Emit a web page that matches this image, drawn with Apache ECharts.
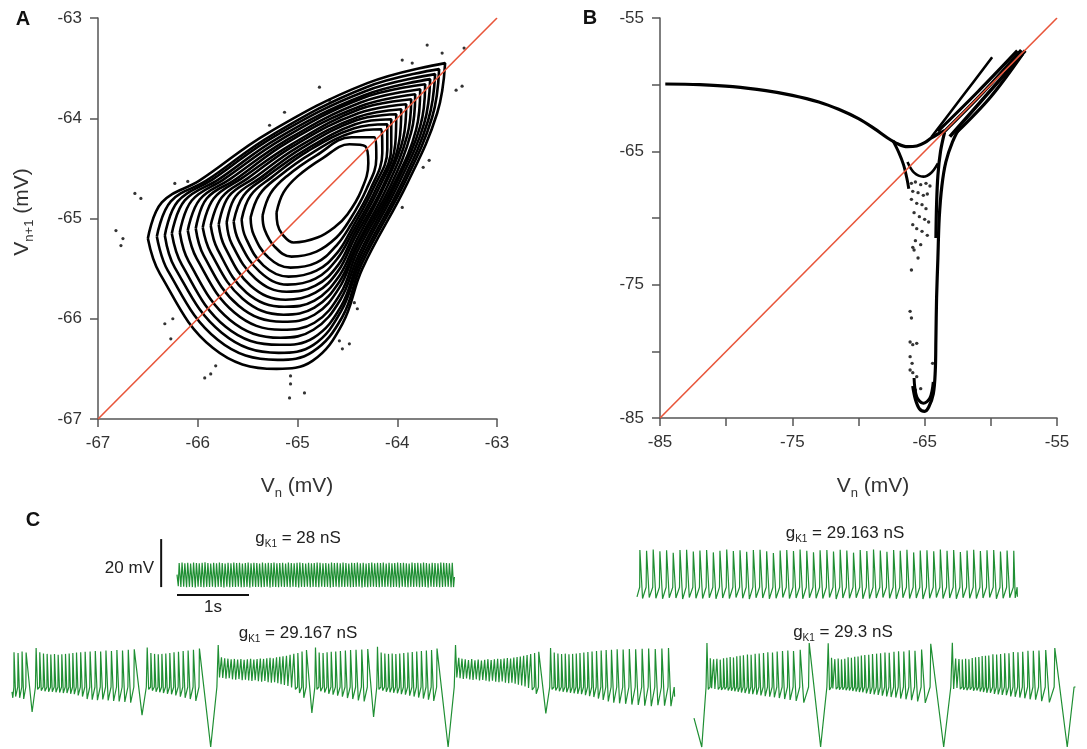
<!DOCTYPE html>
<html><head><meta charset="utf-8">
<script src="https://cdn.jsdelivr.net/npm/echarts@6.0.0/dist/echarts.min.js"></script>
<style>html,body{margin:0;padding:0;background:#fff}#c{width:1087px;height:749px}</style>
</head><body><div id="c"></div>
<script>
// ================= DATA =================
// ---- Panel A : return map, nested loops (Vn, Vn+1) in mV ----
const ticksA = [-67, -66, -65, -64, -63];
const loopsA = [
 [[-65.21,-64.94],[-65.14,-64.74],[-65.00,-64.58],[-64.75,-64.40],[-64.48,-64.26],[-64.32,-64.28],[-64.29,-64.45],[-64.36,-64.72],[-64.50,-64.96],[-64.62,-65.08],[-64.80,-65.19],[-65.04,-65.24],[-65.15,-65.16],[-65.20,-65.06]],
 [[-65.35,-64.97],[-65.27,-64.75],[-65.11,-64.58],[-64.81,-64.37],[-64.46,-64.19],[-64.23,-64.19],[-64.21,-64.40],[-64.31,-64.71],[-64.48,-65.02],[-64.61,-65.19],[-64.81,-65.33],[-65.06,-65.38],[-65.23,-65.28],[-65.33,-65.11]],
 [[-65.47,-64.99],[-65.38,-64.76],[-65.20,-64.59],[-64.86,-64.35],[-64.44,-64.14],[-64.16,-64.11],[-64.15,-64.35],[-64.27,-64.71],[-64.47,-65.07],[-64.61,-65.27],[-64.81,-65.44],[-65.07,-65.49],[-65.29,-65.39],[-65.44,-65.16]],
 [[-65.56,-65.01],[-65.47,-64.77],[-65.26,-64.59],[-64.90,-64.33],[-64.43,-64.10],[-64.10,-64.06],[-64.10,-64.32],[-64.24,-64.70],[-64.46,-65.11],[-64.60,-65.34],[-64.81,-65.52],[-65.09,-65.58],[-65.34,-65.47],[-65.52,-65.19]],
 [[-65.64,-65.03],[-65.54,-64.77],[-65.32,-64.59],[-64.93,-64.32],[-64.42,-64.06],[-64.06,-64.01],[-64.06,-64.29],[-64.21,-64.70],[-64.45,-65.14],[-64.60,-65.40],[-64.82,-65.60],[-65.10,-65.66],[-65.38,-65.53],[-65.59,-65.22]],
 [[-65.71,-65.04],[-65.62,-64.78],[-65.38,-64.60],[-64.96,-64.30],[-64.41,-64.02],[-64.01,-63.96],[-64.02,-64.26],[-64.18,-64.69],[-64.44,-65.17],[-64.59,-65.46],[-64.82,-65.67],[-65.11,-65.73],[-65.42,-65.60],[-65.66,-65.25]],
 [[-65.79,-65.06],[-65.69,-64.78],[-65.44,-64.60],[-65.00,-64.29],[-64.40,-63.99],[-63.96,-63.91],[-63.98,-64.23],[-64.15,-64.69],[-64.43,-65.20],[-64.59,-65.52],[-64.82,-65.74],[-65.12,-65.81],[-65.47,-65.67],[-65.73,-65.28]],
 [[-65.87,-65.07],[-65.76,-64.79],[-65.50,-64.60],[-65.03,-64.27],[-64.39,-63.95],[-63.91,-63.86],[-63.94,-64.20],[-64.13,-64.68],[-64.42,-65.24],[-64.58,-65.57],[-64.83,-65.82],[-65.13,-65.88],[-65.51,-65.74],[-65.80,-65.31]],
 [[-65.95,-65.09],[-65.84,-64.80],[-65.56,-64.60],[-65.06,-64.26],[-64.38,-63.91],[-63.86,-63.81],[-63.90,-64.17],[-64.10,-64.68],[-64.41,-65.27],[-64.58,-65.63],[-64.83,-65.89],[-65.14,-65.96],[-65.55,-65.80],[-65.87,-65.34]],
 [[-66.02,-65.10],[-65.91,-64.80],[-65.62,-64.61],[-65.10,-64.24],[-64.37,-63.88],[-63.82,-63.76],[-63.86,-64.14],[-64.07,-64.68],[-64.41,-65.30],[-64.58,-65.69],[-64.83,-65.96],[-65.15,-66.03],[-65.59,-65.87],[-65.94,-65.37]],
 [[-66.10,-65.12],[-65.98,-64.81],[-65.68,-64.61],[-65.13,-64.23],[-64.36,-63.84],[-63.77,-63.71],[-63.81,-64.11],[-64.04,-64.67],[-64.40,-65.33],[-64.57,-65.75],[-64.83,-66.04],[-65.16,-66.11],[-65.63,-65.94],[-66.01,-65.40]],
 [[-66.18,-65.14],[-66.06,-64.82],[-65.74,-64.61],[-65.16,-64.21],[-64.35,-63.80],[-63.72,-63.66],[-63.77,-64.08],[-64.02,-64.67],[-64.39,-65.37],[-64.57,-65.81],[-64.84,-66.11],[-65.17,-66.19],[-65.68,-66.01],[-66.09,-65.43]],
 [[-66.26,-65.15],[-66.13,-64.82],[-65.79,-64.61],[-65.20,-64.20],[-64.33,-63.77],[-63.67,-63.61],[-63.73,-64.05],[-63.99,-64.66],[-64.38,-65.40],[-64.56,-65.87],[-64.84,-66.19],[-65.18,-66.26],[-65.72,-66.08],[-66.16,-65.46]],
 [[-66.33,-65.17],[-66.20,-64.83],[-65.85,-64.61],[-65.23,-64.18],[-64.32,-63.73],[-63.62,-63.56],[-63.69,-64.02],[-63.96,-64.66],[-64.37,-65.43],[-64.56,-65.92],[-64.84,-66.26],[-65.19,-66.34],[-65.76,-66.14],[-66.23,-65.49]],
 [[-66.41,-65.18],[-66.27,-64.83],[-65.91,-64.62],[-65.26,-64.17],[-64.31,-63.69],[-63.58,-63.51],[-63.65,-63.99],[-63.93,-64.65],[-64.36,-65.46],[-64.55,-65.98],[-64.85,-66.33],[-65.20,-66.41],[-65.80,-66.21],[-66.30,-65.52]],
 [[-66.50,-65.20],[-66.36,-64.84],[-65.98,-64.62],[-65.30,-64.15],[-64.30,-63.65],[-63.52,-63.45],[-63.60,-63.95],[-63.90,-64.65],[-64.35,-65.50],[-64.55,-66.05],[-64.85,-66.42],[-65.21,-66.50],[-65.85,-66.29],[-66.38,-65.55]]
];
const strayA = [[-66.82,-65.12],[-66.75,-65.2],[-66.77,-65.27],[-66.63,-64.75],[-66.57,-64.8],[-66.23,-64.65],[-66.1,-64.63],
 [-65.28,-64.07],[-65.13,-63.94],[-64.78,-63.69],[-64.68,-63.82],[-63.95,-63.42],[-63.85,-63.45],[-63.7,-63.27],[-63.55,-63.35],
 [-63.33,-63.3],[-63.41,-63.72],[-63.35,-63.68],[-63.68,-64.42],[-63.74,-64.49],[-63.95,-64.89],[-66.33,-66.05],[-66.27,-66.2],
 [-66.25,-66.0],[-65.93,-66.59],[-65.87,-66.55],[-65.82,-66.47],[-65.08,-66.79],[-65.07,-66.65],[-64.93,-66.74],[-65.07,-66.57],
 [-64.58,-66.22],[-64.48,-66.25],[-64.55,-66.3],[-64.43,-65.84],[-64.4,-65.9]];
const identityA = [[-67, -67], [-63, -63]];

// ---- Panel B ----
const ticksB = [-85, -80, -75, -70, -65, -60, -55];
const identityB = [[-85, -85], [-55, -55]];
const bBranch = [[-84.6,-59.95],[-82,-60.0],[-79.5,-60.15],[-77,-60.45],[-75,-60.8],[-73,-61.3],[-71.5,-61.85],[-70,-62.55],[-68.8,-63.3],[-67.8,-64.0],[-67.0,-64.45],[-66.3,-64.65],[-65.6,-64.6],[-65.0,-64.35],[-64.5,-64.0],[-64.0,-63.7],[-63.5,-63.45]];
const bFork = [[-64.5,-63.95],[-62.2,-60.95],[-59.9,-57.95]];
const bBundle1 = [[-64.0,-63.5],[-61.0,-60.55],[-58.0,-57.45]];
const bBundle2 = [[-63.6,-63.6],[-60.6,-60.6],[-57.7,-57.4]];
const bBundle3 = [[-63.1,-63.9],[-60.3,-60.75],[-57.4,-57.45]];
const bBundle4 = [[-62.6,-63.6],[-60.0,-60.9],[-57.6,-57.7]];
const bRightArm = [[-62.3,-63.1],[-62.9,-64.3],[-63.4,-65.8],[-63.7,-67.6],[-63.9,-70],[-64.0,-73],[-64.1,-76],[-64.15,-79],[-64.2,-81.5],[-64.35,-83.2],[-64.7,-84.2],[-65.0,-84.5],[-65.4,-84.3],[-65.7,-83.6],[-65.9,-82.6]];
const bRightArmInner = [[-63.5,-63.6],[-63.8,-65.0],[-64.0,-66.8],[-64.1,-69],[-64.15,-71.5]];
const bBottomInner = [[-65.8,-82.0],[-65.6,-83.4],[-65.1,-83.9],[-64.6,-83.5],[-64.35,-82.3]];
const bLeftArm = [[-67.4,-64.2],[-66.95,-65.1],[-66.6,-66.0],[-66.35,-67.0],[-66.2,-67.8]];
const bInnerU = [[-66.3,-65.8],[-65.8,-66.6],[-65.1,-66.9],[-64.5,-66.6],[-64.0,-65.9]];
const bScatter = [[-66.0,-67.4],[-65.7,-67.3],[-65.3,-67.5],[-64.9,-67.4],[-64.6,-67.6],[-65.9,-68.0],[-65.5,-68.1],[-65.1,-68.3],
 [-64.8,-68.2],[-66.0,-68.6],[-65.6,-68.9],[-65.2,-69.0],[-64.9,-69.3],[-65.8,-69.6],[-65.4,-69.9],[-65.0,-70.1],[-64.7,-70.3],
 [-65.9,-70.5],[-65.6,-70.8],[-65.2,-71.0],[-64.8,-71.3],[-65.7,-71.7],[-65.3,-72.0],[-65.8,-72.4],[-65.5,-73.0],
 [-65.9,-72.2],[-66.0,-73.9],[-66.1,-77.0],[-66.0,-77.5],[-66.1,-79.3],[-65.9,-79.5],[-65.6,-79.4],[-66.1,-80.4],
 [-65.95,-80.9],[-66.1,-81.4],[-65.9,-81.6],[-65.6,-81.9],[-64.4,-80.9],[-65.3,-82.8],[-65.7,-82.9]];

// ---- Panel C : voltage traces (mV), successive maxima / minima and intervals (ms) ----
const traceTitles = ['28', '29.163', '29.167', '29.3'];
const scaleBarMv = 20, scaleBarSec = 1;
// voltage where the fast upstroke of each spike begins (null: no distinct threshold visible)
const spikeThresholds = [null, -60.5, -60, -60];

const tr1Peaks = [-64,
 -59.2,-59.0,-59.3,-59.1,-59.4,-59.0,-59.2,-59.3,-59.1,-58.9,-59.2,-59.4,
 -59.1,-59.3,-59.0,-59.2,-59.4,-59.1,-59.3,-59.0,-59.2,-59.1,-59.4,-59.2,
 -59.0,-59.3,-59.1,-59.2,-59.4,-59.0,-59.3,-59.1,-59.2,-59.0,-59.3,-59.2,
 -59.1,-59.4,-59.0,-59.2,-59.3,-59.1,-59.0,-59.2,-59.4,-59.1,-59.3,-59.2,
 -59.0,-59.1,-59.3,-59.2,-59.4,-59.0,-59.2,-59.1,-59.3,-59.0,-59.2,-59.4,
 -59.1,-59.2,-59.0,-59.3,-59.1,-59.4,-59.2,-59.0,-59.3,-59.1,-59.2,-59.0,
 -59.4,-59.1,-59.3,-59.2,-59.0,-59.2,-59.1,-59.3,-59.4,-59.0,-59.2,-59.1,
 -59.3,-59.0,-59.2,-59.4,-59.1,-59.2,-59.3,-59.0,-59.1,-59.2,-59.3,-59.1,
 -65];
const tr1Troughs = [-68.8,
 -69.2,-69.0,-69.3,-69.1,-69.2,-69.4,-69.0,-69.2,-69.3,-69.1,-69.2,-69.0,
 -69.3,-69.1,-69.2,-69.4,-69.0,-69.3,-69.1,-69.2,-69.0,-69.3,-69.2,-69.1,
 -69.4,-69.0,-69.2,-69.1,-69.3,-69.2,-69.0,-69.4,-69.1,-69.2,-69.3,-69.0,
 -69.2,-69.1,-69.3,-69.0,-69.2,-69.4,-69.1,-69.2,-69.0,-69.3,-69.1,-69.2,
 -69.3,-69.0,-69.2,-69.1,-69.4,-69.2,-69.0,-69.3,-69.1,-69.2,-69.0,-69.3,
 -69.2,-69.1,-69.0,-69.4,-69.2,-69.3,-69.1,-69.0,-69.2,-69.3,-69.1,-69.2,
 -69.0,-69.3,-69.2,-69.1,-69.4,-69.0,-69.2,-69.3,-69.1,-69.2,-69.0,-69.3,
 -69.1,-69.2,-69.4,-69.0,-69.2,-69.1,-69.3,-69.2,-69.0,-69.1,-69.3,-69.2];
const tr1Gaps = [30,
 40,39,40,40,41,40,39,40,40,40,39,41,
 40,40,39,40,41,40,40,39,40,40,41,39,
 40,40,40,39,40,41,40,40,39,40,40,40,
 41,39,40,40,40,39,40,41,40,40,39,40,
 40,41,40,39,40,40,40,41,39,40,40,40,
 39,40,41,40,40,39,40,40,40,41,39,40,
 40,40,39,40,41,40,40,39,40,40,40,41,
 39,40,40,40,39,41,40,40,39,40,40,
 30];

const tr2Peaks = [-64.5,
 -45.0,-45.3,-44.8,-45.5,-45.1,-46.2,-45.0,-44.9,-45.6,-45.2,-45.0,-46.0,
 -45.3,-44.8,-45.4,-45.1,-45.7,-45.0,-44.9,-45.5,-46.3,-45.2,-45.0,-45.4,
 -44.8,-45.3,-45.9,-45.1,-45.0,-45.6,-44.9,-45.2,-46.1,-45.0,-45.4,-44.8,
 -45.2,-45.7,-45.0,-45.3,-44.9,-46.0,-45.2,-45.1,-45.5,-44.8,-45.3,-45.0,
 -45.8,-45.2,-44.9,-45.4,-45.1,-45.0,-45.6,-45.2,-45.3,
 -64.5];
const tr2Troughs = [-65.0,
 -65.2,-64.8,-65.1,-65.3,-64.9,-65.0,-65.4,-64.8,-65.1,-65.2,-64.9,-65.3,
 -65.0,-65.2,-64.8,-65.1,-65.4,-64.9,-65.0,-65.3,-65.1,-64.8,-65.2,-65.0,
 -65.3,-64.9,-65.1,-65.2,-64.8,-65.4,-65.0,-65.1,-64.9,-65.3,-65.2,-65.0,
 -64.8,-65.1,-65.3,-64.9,-65.2,-65.0,-65.4,-65.1,-64.8,-65.2,-65.0,-65.3,
 -64.9,-65.1,-65.2,-65.0,-64.8,-65.3,-65.1,-64.9,-65.0];
const tr2Gaps = [40,
 93,92,93,93,92,94,92,93,92,93,93,92,
 94,92,93,92,93,93,92,93,94,92,93,92,
 93,93,92,94,92,93,92,93,93,92,93,94,
 92,93,92,93,93,92,93,94,92,93,92,93,
 93,92,93,92,93,94,92,93,
 50];

const tr3Peaks = [-62,
 -45.5,-45.8,-45.2,-45.6,
 -43.8,-45.5,-46,-46.2,-46.5,-46.3,-46.6,-46.4,-46.2,-46,-45.8,-45.6,-45.5,-45.3,-45.2,-45,-45.2,-44.8,-45,-44.6,-44.8,-44.5,-44.3,
 -43.5,-45.8,-46.2,-46.4,-46.2,-46,-45.8,-45.5,-45.3,-45,-44.8,-44.5,-44,
 -42.5,-47.6,-48,-48.2,-48.5,-48.3,-48.6,-48.4,-48.7,-48.5,-48.2,-48.6,-48.4,-48.1,-48.3,-48,-47.8,-48,-47.6,-47.4,-47.2,-47,-46.6,-46.2,-45.8,-45.2,-44.6,
 -43.5,-45.6,-45.8,-45.5,-45.3,-45.2,-45,-44.8,-44.6,-44.5,-44.4,-44.2,
 -43.2,-45.6,-46,-46.2,-46,-46.3,-46,-45.8,-45.6,-45.4,-45.2,-45,-44.8,-44.6,-44,
 -42.5,-47.8,-48.2,-48.5,-48.8,-48.4,-48.9,-48.6,-49,-48.7,-48.4,-48.8,-48.5,-48.2,-48.4,-48.1,-47.9,-48.1,-47.7,-47.5,-47.3,-47,-46.7,-46.3,-45.8,-45.3,
 -43.8,-45.6,-46,-46.3,-46.1,-46.4,-46.2,-46,-45.8,-45.6,-45.4,-45.2,-45,-44.8,-44.6,-44.5,-44.3,-44.4,-44.2,-44.3,-44.1,-44,-44.2,-44,-43.8,
 -64];
const tr3Troughs = [-64.5,
 -64,-64.5,-65,-70.4,
 -61,-61.5,-61.8,-62,-62,-62.2,-62.3,-62.5,-62.5,-62.8,-63,-63.5,-64,-65,-65.3,-65.5,-65.2,-65.6,-65.8,-66,-66.2,-66.5,-71.7,
 -61,-61.5,-62,-62.2,-62.5,-62.8,-63,-63.5,-64,-64.5,-65,-65.8,-85,
 -56,-56.2,-56.5,-56.3,-56.8,-57,-56.7,-57.2,-57,-57.3,-57.5,-57.2,-57.6,-57.8,-57.5,-58,-58.2,-58,-58.4,-58.8,-59.2,-59.6,-60.2,-61,-62.5,-64.5,-70.8,
 -61,-61.8,-62.3,-62.8,-63.2,-63.6,-64,-64.6,-65,-65.6,-66,-72.5,
 -61,-61.5,-62,-62.2,-62.4,-62.6,-63,-63.2,-63.6,-64,-64.4,-64.8,-65.3,-65.8,-85,
 -56,-56.3,-56.6,-56.4,-56.9,-57.1,-56.8,-57.3,-57.1,-57.4,-57.7,-57.4,-57.8,-58,-57.7,-58.2,-58.4,-58.2,-58.6,-59,-59.4,-59.8,-60.4,-61.2,-62.8,-71,
 -61,-61.4,-61.8,-62,-62.2,-62.4,-62.6,-62.8,-63,-63.4,-63.8,-64.2,-64.8,-65.4,-66,-66.5,-66.8,-67,-67.3,-67.5,-67.8,-68,-67.6,-67.8,-68];
const tr3Gaps = [28,
 56,56,56,139,
 51,51,51,51,51,51,51,51,51,51,51,58,62,69,72,74,74,76,76,78,80,83,180,
 51,51,51,51,54,56,58,62,65,69,74,83,261,
 45,45,45,45,45,45,45,45,45,45,45,45,45,45,45,45,45,45,45,45,48,50,52,56,58,62,125,
 51,54,56,58,62,65,69,72,76,80,83,135,
 51,51,51,51,51,54,56,58,60,62,65,69,72,76,257,
 45,45,45,45,45,45,45,45,45,45,45,45,45,45,45,45,45,45,45,45,46,48,50,54,58,164,
 51,51,51,51,51,51,51,51,54,56,58,62,65,69,74,79,83,86,88,90,90,92,92,92,85];

const tr4Peaks = [-73,
 -41.7,-48,-48.5,-48.2,-48.6,-48,-47.8,-47.5,-47.7,-47.2,-47,-46.8,-46.5,-46.6,-46.2,-46,-45.8,-45.5,-45.6,-45.2,-45,-44.8,-45,-44.5,-41.7,
 -41.8,-47.8,-48.4,-48.1,-48.5,-48.2,-47.6,-47.8,-47.4,-47.3,-46.9,-46.7,-46.6,-46.3,-46.1,-45.9,-45.6,-45.7,-45.3,-45.1,-45.2,-44.7,-44.9,-44.4,-42,
 -41.6,-48.1,-48.3,-48.5,-48.2,-48.4,-47.9,-47.6,-47.5,-47.1,-47,-46.9,-46.4,-46.5,-46.3,-45.9,-45.9,-45.4,-45.5,-45.3,-44.9,-44.9,-44.8,-44.6,-43.8,
 -60];
const tr4Troughs = [-85,
 -61,-60.5,-60.8,-61,-61.2,-61,-61.5,-61.6,-61.8,-62,-62.3,-62.5,-62.8,-63,-63.2,-63.5,-63.8,-64,-64.3,-64.6,-65,-65.4,-65.8,-66.5,-85,
 -61.2,-60.6,-60.9,-61.1,-61.1,-61.3,-61.4,-61.7,-61.9,-62.1,-62.2,-62.6,-62.9,-63.1,-63.3,-63.6,-63.9,-64.2,-64.4,-64.8,-65.1,-65.5,-66,-66.6,-85,
 -60.8,-60.4,-60.9,-61.1,-61.3,-61.1,-61.6,-61.5,-61.9,-62.1,-62.4,-62.4,-62.9,-63.1,-63.3,-63.4,-63.9,-64.1,-64.4,-64.7,-65.1,-65.3,-65.9,-66.4,-85];
const tr4Gaps = [180,
 46,46,46,46,46,46,46,46,46,46,46,56,51,56,56,60,60,65,65,74,74,79,93,125,264,
 46,46,46,46,46,46,46,46,46,46,48,55,52,57,55,61,59,66,64,73,75,80,92,127,300,
 46,46,46,46,46,46,46,46,46,46,46,57,52,55,57,59,61,64,66,73,75,78,94,126,288];

// ================= LAYOUT / STYLE =================
const FONT = '"Liberation Sans", Arial, Helvetica, sans-serif';
const AX = '#555', TX = '#333';
const PX_PER_S = 72, PX_PER_MV = 2.4, MV_MIN = -90, MV_MAX = -40;
const traceLayout = [
  {x0: 177, y85: 625, tMin: -0.3},
  {x0: 637, y85: 646, tMin: 0},
  {x0: 12,  y85: 747, tMin: 0},
  {x0: 694, y85: 747, tMin: 0}
];

function buildTrace(peaks, troughs, gaps, thr) {
  const pts = []; let t = 0;
  for (let i = 0; i < peaks.length; i++) {
    pts.push([t, peaks[i]]);
    if (i < peaks.length - 1 && i < gaps.length) {
      const g = gaps[i] / 1000;
      const deep = troughs[i] < -68;
      if (thr == null) {
        pts.push([t + g * 0.6, troughs[i]]);
      } else {
        pts.push([t + g * (deep ? 0.6 : 0.4), troughs[i]]);
        pts.push([t + g * 0.93, Math.max(troughs[i], thr)]);
      }
      t += g;
    }
  }
  return {pts, dur: t};
}
const traces = [
  buildTrace(tr1Peaks, tr1Troughs, tr1Gaps, spikeThresholds[0]),
  buildTrace(tr2Peaks, tr2Troughs, tr2Gaps, spikeThresholds[1]),
  buildTrace(tr3Peaks, tr3Troughs, tr3Gaps, spikeThresholds[2]),
  buildTrace(tr4Peaks, tr4Troughs, tr4Gaps, spikeThresholds[3])
];

function mainAxis(idx, min, max, interval, fmt) {
  return {
    gridIndex: idx, type: 'value', min, max, interval,
    axisLine: {show: true, onZero: false, lineStyle: {color: AX, width: 1.5}},
    axisTick: {show: true, inside: false, length: 8, lineStyle: {color: AX, width: 1.5}},
    splitLine: {show: false},
    axisLabel: {color: TX, fontSize: 17, fontFamily: FONT, margin: 16, formatter: fmt}
  };
}
const fmtB = v => (Math.abs(v % 10) === 5 ? String(v) : '');

const grids = [
  {left: 98, top: 18, width: 399, height: 401},
  {left: 660, top: 18, width: 397, height: 400}
];
const xAxes = [mainAxis(0, ticksA[0], ticksA[ticksA.length-1], 1), mainAxis(1, ticksB[0], ticksB[ticksB.length-1], 5, fmtB)];
const yAxes = [mainAxis(0, ticksA[0], ticksA[ticksA.length-1], 1), mainAxis(1, ticksB[0], ticksB[ticksB.length-1], 5, fmtB)];
traces.forEach((tr, i) => {
  const L = traceLayout[i];
  grids.push({
    left: L.x0 + L.tMin * PX_PER_S,
    top: L.y85 - (MV_MAX + 85) * PX_PER_MV,
    width: (tr.dur - L.tMin) * PX_PER_S,
    height: (MV_MAX - MV_MIN) * PX_PER_MV
  });
  xAxes.push({gridIndex: 2 + i, type: 'value', min: L.tMin, max: tr.dur, show: false});
  yAxes.push({gridIndex: 2 + i, type: 'value', min: MV_MIN, max: MV_MAX, show: false});
});
grids.forEach(g => { g.containLabel = false; g.outerBoundsMode = 'none'; });

const series = [];
loopsA.forEach(lp => {
  series.push({type: 'line', xAxisIndex: 0, yAxisIndex: 0, data: lp.concat([lp[0]]),
    smooth: 0.4, showSymbol: false, silent: true, animation: false,
    lineStyle: {color: '#000', width: 2.6}});
});
series.push({type: 'scatter', xAxisIndex: 0, yAxisIndex: 0, data: strayA, symbolSize: 3.2,
  itemStyle: {color: '#000'}, silent: true});
series.push({type: 'line', xAxisIndex: 0, yAxisIndex: 0, data: identityA, showSymbol: false,
  lineStyle: {color: '#e8553a', width: 1.6}, z: 5, silent: true});

const bLines = [[bBranch, 3.2], [bFork, 2.6], [bBundle1, 3.2], [bBundle2, 3.4], [bBundle3, 3.6], [bBundle4, 3.2],
  [bRightArm, 3.2], [bRightArmInner, 3.2], [bBottomInner, 3], [bLeftArm, 3], [bInnerU, 2.6]];
bLines.forEach(([d, w]) => {
  series.push({type: 'line', xAxisIndex: 1, yAxisIndex: 1, data: d, smooth: 0.35, showSymbol: false,
    lineStyle: {color: '#000', width: w}, silent: true});
});
series.push({type: 'scatter', xAxisIndex: 1, yAxisIndex: 1, data: bScatter, symbolSize: 3.4,
  itemStyle: {color: '#000'}, silent: true});
series.push({type: 'line', xAxisIndex: 1, yAxisIndex: 1, data: identityB, showSymbol: false,
  lineStyle: {color: '#e8553a', width: 1.6}, z: 5, silent: true});

traces.forEach((tr, i) => {
  series.push({type: 'line', xAxisIndex: 2 + i, yAxisIndex: 2 + i, data: tr.pts, showSymbol: false,
    lineStyle: {color: '#1f8f33', width: 1.2}, silent: true});
});
// scale bars (in trace-1 coordinates)
const barBase = tr1Troughs[1];
series.push({type: 'line', xAxisIndex: 2, yAxisIndex: 2, showSymbol: false, silent: true,
  data: [[-0.22, barBase], [-0.22, barBase + scaleBarMv]], lineStyle: {color: '#111', width: 2}});
series.push({type: 'line', xAxisIndex: 2, yAxisIndex: 2, showSymbol: false, silent: true,
  data: [[0, -72.5], [scaleBarSec, -72.5]], lineStyle: {color: '#111', width: 2}});

// ================= TEXT =================
const richAxis = {
  m: {fontSize: 21, lineHeight: 28, fill: TX, fontFamily: FONT},
  s: {fontSize: 13, lineHeight: 12, verticalAlign: 'bottom', fill: TX, fontFamily: FONT}
};
const richG = {
  m: {fontSize: 17, lineHeight: 22, fill: '#222', fontFamily: FONT},
  s: {fontSize: 10, lineHeight: 10, verticalAlign: 'bottom', fill: '#222', fontFamily: FONT}
};
function txt(x, y, text, opts) {
  return Object.assign({type: 'text', x, y, silent: true,
    style: Object.assign({text, fontFamily: FONT, fill: TX, align: 'center', verticalAlign: 'middle'}, opts || {})});
}
const graphics = [
  txt(23, 19, 'A', {fontSize: 20, fontWeight: 'bold', fill: '#111'}),
  txt(590, 18, 'B', {fontSize: 20, fontWeight: 'bold', fill: '#111'}),
  txt(33, 520, 'C', {fontSize: 20, fontWeight: 'bold', fill: '#111'}),
  txt(297, 486, '{m|V}{s|n}{m| (mV)}', {rich: richAxis}),
  txt(873, 486, '{m|V}{s|n}{m| (mV)}', {rich: richAxis}),
  Object.assign(txt(22, 212, '{m|V}{s|n+1}{m| (mV)}', {rich: richAxis}), {rotation: Math.PI / 2}),
  txt(298, 538, '{m|g}{s|K1}{m| = ' + traceTitles[0] + ' nS}', {rich: richG}),
  txt(845, 533, '{m|g}{s|K1}{m| = ' + traceTitles[1] + ' nS}', {rich: richG}),
  txt(298, 633, '{m|g}{s|K1}{m| = ' + traceTitles[2] + ' nS}', {rich: richG}),
  txt(843, 632, '{m|g}{s|K1}{m| = ' + traceTitles[3] + ' nS}', {rich: richG}),
  txt(154, 568, scaleBarMv + ' mV', {fontSize: 17, align: 'right', fill: '#222'}),
  txt(213, 607, scaleBarSec + 's', {fontSize: 17, fill: '#222'})
];

const chart = echarts.init(document.getElementById('c'), null, {renderer: 'canvas'});
chart.setOption({
  backgroundColor: '#ffffff',
  animation: false,
  grid: grids,
  xAxis: xAxes,
  yAxis: yAxes,
  series,
  graphic: graphics
});
</script></body></html>
